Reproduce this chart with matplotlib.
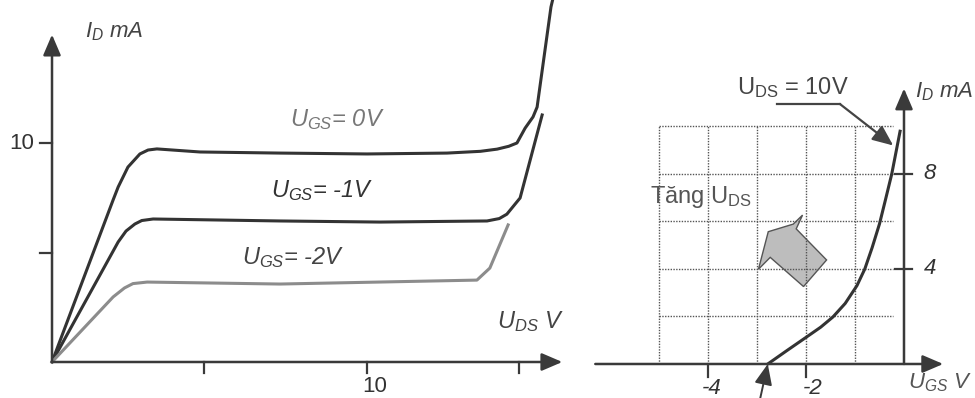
import matplotlib.pyplot as plt
from matplotlib.patches import Polygon

plt.rcParams['font.family'] = ['Liberation Sans', 'DejaVu Sans']
plt.rcParams['mathtext.fontset'] = 'custom'
plt.rcParams['mathtext.rm'] = 'Liberation Sans'
plt.rcParams['mathtext.it'] = 'Liberation Sans:italic'
plt.rcParams['mathtext.bf'] = 'Liberation Sans:bold'

# output characteristics, I_D (mA) vs U_DS (V)
uds_0 = [0, 1.94, 2.10, 2.41, 2.79, 3.05, 3.33, 4.70, 7.24, 10.0, 12.54, 13.6, 14.13, 14.5, 14.76, 15.02, 15.27, 15.40, 15.84, 15.92]
id_0 = [0, 7.40, 7.99, 8.90, 9.50, 9.68, 9.73, 9.59, 9.54, 9.50, 9.54, 9.62, 9.72, 9.85, 10.0, 10.68, 11.19, 11.64, 16.21, 16.7]
uds_1 = [0, 2.10, 2.35, 2.63, 2.85, 3.21, 7.24, 10.41, 13.81, 14.2, 14.44, 14.86, 15.56]
id_1 = [0, 5.48, 5.98, 6.30, 6.46, 6.53, 6.44, 6.39, 6.44, 6.55, 6.75, 7.49, 11.28]
uds_2 = [0, 1.94, 2.3, 2.57, 3.02, 7.24, 13.49, 13.90, 14.48]
id_2 = [0, 2.97, 3.38, 3.58, 3.65, 3.56, 3.74, 4.29, 6.26]
left_xticks = [4.83, 10, 14.83]
left_yticks = [5, 10]

# transfer characteristic, I_D (mA) vs U_GS (V)
ugs_t = [-2.78, -2.4, -2.0, -1.7, -1.45, -1.2, -0.96, -0.8, -0.65, -0.5, -0.38, -0.25, -0.08]
id_t = [0, 0.55, 1.12, 1.55, 1.98, 2.55, 3.3, 4.0, 4.9, 5.9, 6.9, 8.0, 9.8]
grid_x = [-5, -4, -3, -2, -1]
grid_y = [2, 4, 6, 8, 10]
right_xticks = [-4, -2]
right_yticks = [4, 8]
# big grey "Tang U_DS" arrow outline
block_x = [-2.77, -2.26, -2.07, -2.20, -1.58, -2.05, -2.73, -2.97]
block_y = [5.57, 5.89, 6.27, 5.69, 4.38, 3.26, 4.49, 3.99]

dark = '#333333'
axc = '#3a3a3a'

fig = plt.figure(figsize=(9.75, 3.98), dpi=100)

# ---------- left chart ----------
ax = fig.add_axes([0, 0, 575 / 975, 1])
ax.set_xlim(-1.651, 16.603)
ax.set_ylim(-1.644, 16.53)
ax.axis('off')

arr = dict(arrowstyle='-|>,head_length=0.7,head_width=0.3', color=axc, lw=1.8, shrinkA=0, shrinkB=0, mutation_scale=18)
ax.annotate('', xy=(0, 14.95), xytext=(0, 0), arrowprops=arr)
ax.annotate('', xy=(16.2, 0), xytext=(0, 0), arrowprops=arr)
for t in left_xticks:
    ax.plot([t, t], [0, -0.5], color=axc, lw=1.6)
for t in left_yticks:
    ax.plot([-0.38, 0], [t, t], color=axc, lw=1.6)

ax.plot(uds_0, id_0, color=dark, lw=2.2, solid_joinstyle='round', clip_on=False)
ax.plot(uds_1, id_1, color=dark, lw=2.2, solid_joinstyle='round')
ax.plot(uds_2, id_2, color='#8c8c8c', lw=2.2, solid_joinstyle='round')

ax.text(-0.95, 10, '10', fontsize=16, color=dark, ha='center', va='center')
ax.text(10.25, -1.1, '10', fontsize=16, color=dark, ha='center', va='center')
ax.text(1.05, 15.07, r'$I_D$ mA', fontsize=16, color='#444444', style='italic', va='center')
ax.text(7.56, 11.05, r'$U_{GS}$= 0V', fontsize=17, color='#777777', style='italic', va='center')
ax.text(6.95, 7.85, r'$U_{GS}$= -1V', fontsize=17, color=dark, style='italic', va='center')
ax.text(6.03, 4.75, r'$U_{GS}$= -2V', fontsize=17, color='#444444', style='italic', va='center')
ax.text(14.13, 1.83, r'$U_{DS}$ V', fontsize=17, color='#444444', style='italic', va='center')

# ---------- right chart ----------
bx = fig.add_axes([580 / 975, 0, 395 / 975, 1])
bx.set_xlim(-6.612, 1.449)
bx.set_ylim(-1.432, 15.326)
bx.axis('off')

for g in grid_x:
    bx.plot([g, g], [0, 10], color='#555555', lw=1, ls=(0, (1, 1)))
for g in grid_y:
    bx.plot([-5, -0.22], [g, g], color='#555555', lw=1, ls=(0, (1, 1)))

bx.annotate('', xy=(0, 11.6), xytext=(0, 0), arrowprops=arr)
bx.annotate('', xy=(0.8, 0), xytext=(-6.3, 0), arrowprops=arr)
for t in right_xticks:
    bx.plot([t, t], [0, -0.55], color=axc, lw=1.6)
for t in right_yticks:
    bx.plot([-0.18, 0.16], [t, t], color=axc, lw=1.6)

bx.plot(ugs_t, id_t, color=dark, lw=2.2, solid_joinstyle='round')

bx.add_patch(Polygon(list(zip(block_x, block_y)), closed=True,
                     facecolor='#bdbdbd', edgecolor='#555555', lw=1))

# U_DS = 10V leader
bx.plot([-2.59, -1.31], [10.95, 10.95], color='#444444', lw=1.6)
bx.annotate('', xy=(-0.22, 9.2), xytext=(-1.31, 10.95),
            arrowprops=dict(arrowstyle='-|>,head_length=0.7,head_width=0.3', color='#444444',
                            lw=1.6, shrinkA=0, shrinkB=0, mutation_scale=18))
# small arrow from below to pinch-off point
bx.annotate('', xy=(-2.78, 0), xytext=(-2.94, -1.5),
            arrowprops=dict(arrowstyle='-|>,head_length=0.7,head_width=0.3', color=axc,
                            lw=1.4, shrinkA=0, shrinkB=0, mutation_scale=18), annotation_clip=False)

bx.text(0.53, 8, '8', fontsize=16, color=dark, style='italic', ha='center', va='center')
bx.text(0.53, 4, '4', fontsize=16, color=dark, style='italic', ha='center', va='center')
bx.text(-3.92, -1.05, '-4', fontsize=16, color=dark, style='italic', ha='center', va='center')
bx.text(-1.86, -1.05, '-2', fontsize=16, color=dark, style='italic', ha='center', va='center')
bx.text(0.22, 11.45, r'$I_D$ mA', fontsize=16, color='#444444', style='italic', va='center')
bx.text(0.08, -0.8, r'$U_{GS}$ V', fontsize=16, color='#555555', style='italic', va='center')
bx.text(-3.41, 11.62, r'U$_{\mathrm{DS}}$ = 10V', fontsize=17, color='#444444', va='center')
bx.text(-5.18, 7.03, r'Tăng U$_{\mathrm{DS}}$', fontsize=17, color='#555555', va='center')

fig.savefig('out.png', dpi=100)
